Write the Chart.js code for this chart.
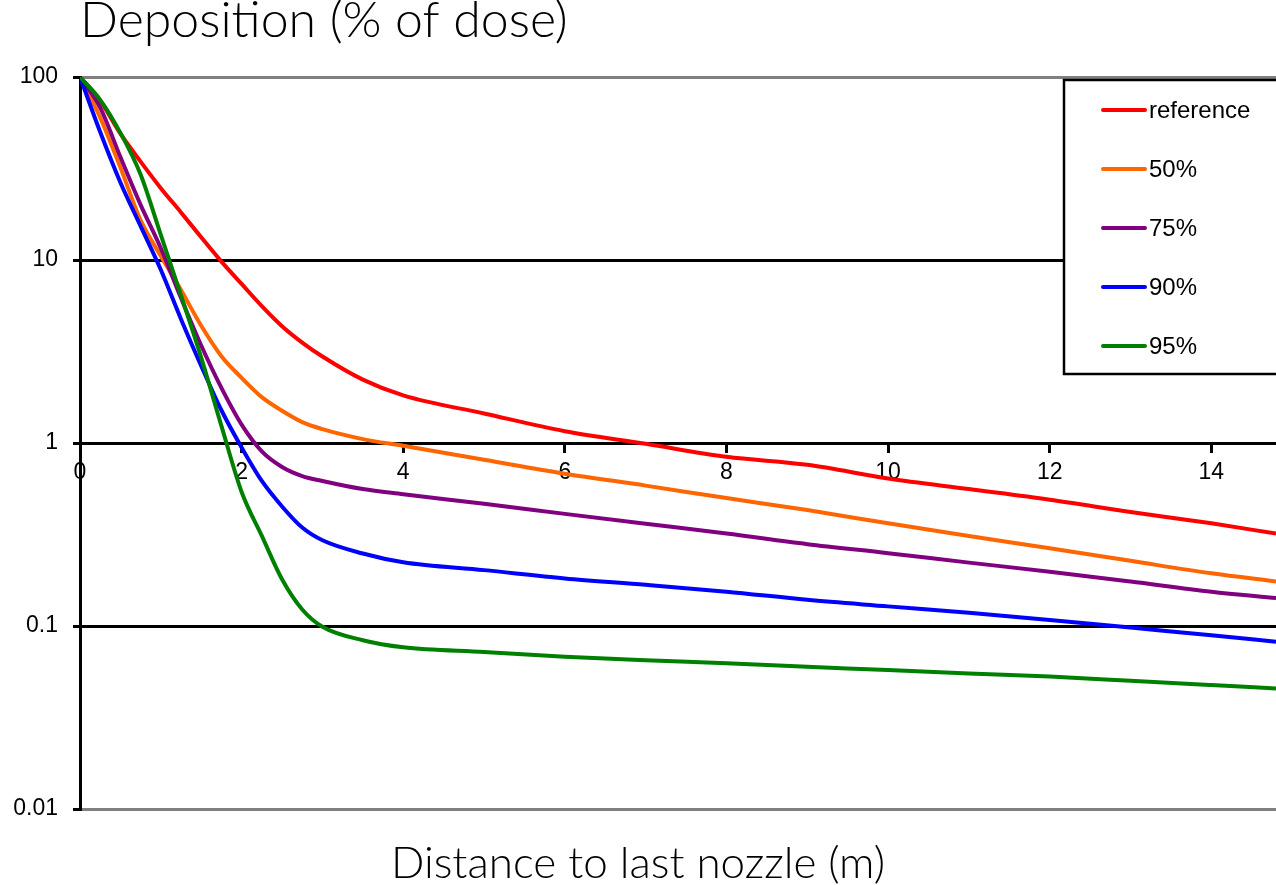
<!DOCTYPE html>
<html>
<head>
<meta charset="utf-8">
<script src="https://cdn.jsdelivr.net/npm/chart.js@4/dist/chart.umd.min.js"></script>
<style>
    html, body { margin: 0; padding: 0; background: #fff; }
    #wrap { width: 1276px; height: 885px; position: relative; }
</style>
</head>
<body>
<div id="wrap"><canvas id="chartDepo"></canvas></div>
<script>
// distance to last nozzle (m)
const distances = [0, 0.25, 0.5, 0.75, 1, 1.25, 1.5, 1.75, 2, 2.25, 2.5, 2.75, 3, 3.5, 4, 5, 6, 7, 8, 9, 10, 11, 12, 13, 14, 14.8];

// deposition (% of dose)
const refValues = [100, 74, 49, 34.5, 24.7, 18.2, 13.3, 9.8, 7.4, 5.6, 4.35, 3.54, 2.97, 2.22, 1.82, 1.45, 1.16, 0.99, 0.84, 0.76, 0.64, 0.56, 0.49, 0.42, 0.364, 0.32];
const red50 = [100, 60, 32, 16.5, 10.5, 6.85, 4.37, 2.98, 2.27, 1.78, 1.5, 1.3, 1.19, 1.05, 0.965, 0.81, 0.68, 0.585, 0.5, 0.43, 0.364, 0.31, 0.266, 0.227, 0.194, 0.175];
const red75 = [100, 68, 36.5, 20, 11.6, 6.2, 3.41, 2.0, 1.26, 0.9, 0.74, 0.66, 0.62, 0.56, 0.525, 0.465, 0.41, 0.362, 0.32, 0.28, 0.25, 0.222, 0.198, 0.175, 0.154, 0.142];
const red90 = [100, 50, 26.5, 15.3, 8.85, 4.75, 2.64, 1.51, 0.945, 0.62, 0.45, 0.345, 0.294, 0.249, 0.223, 0.202, 0.182, 0.168, 0.154, 0.139, 0.128, 0.118, 0.108, 0.098, 0.089, 0.082];
const red95 = [100, 75, 49.5, 29.3, 13.7, 6.4, 2.93, 1.24, 0.54, 0.311, 0.18, 0.123, 0.099, 0.0836, 0.0765, 0.0721, 0.068, 0.065, 0.0625, 0.0598, 0.0575, 0.055, 0.0529, 0.0502, 0.0476, 0.0456];

const seriesLabels = ['reference', '50%', '75%', '90%', '95%'];
const seriesColors = ['#FF0000', '#FF6600', '#800080', '#0000FF', '#008000'];
const yTicks = [0.01, 0.1, 1, 10, 100];

const FONT_TXT = "'Liberation Sans', Arial, sans-serif";
const FONT_TITLE = "Lato, 'DejaVu Sans', sans-serif";

const toPoints = vals => distances.map((d, i) => ({ x: d, y: vals[i] }));

// legend with a frame, drawn inside the plot like the original
const boxLegend = {
    id: 'boxLegend',
    afterDraw(chart) {
        const ctx = chart.ctx;
        ctx.save();
        ctx.fillStyle = '#fff';
        ctx.fillRect(1064, 80, 240, 294);
        ctx.strokeStyle = '#000';
        ctx.lineWidth = 2.5;
        ctx.strokeRect(1064, 80, 240, 294);
        ctx.font = '24px ' + FONT_TXT;
        ctx.textBaseline = 'middle';
        ctx.fillStyle = '#000';
        chart.data.datasets.forEach((ds, i) => {
            const y = 110 + i * 59;
            ctx.strokeStyle = ds.borderColor;
            ctx.lineWidth = 4;
            ctx.lineCap = 'round';
            ctx.beginPath();
            ctx.moveTo(1103, y);
            ctx.lineTo(1145, y);
            ctx.stroke();
            ctx.fillText(ds.label, 1149, y + 1);
        });
        ctx.restore();
    }
};

const series = [refValues, red50, red75, red90, red95];

new Chart(document.getElementById('chartDepo'), {
    type: 'line',
    data: {
        datasets: series.map((vals, i) => ({
            label: seriesLabels[i],
            data: toPoints(vals),
            borderColor: seriesColors[i],
            backgroundColor: seriesColors[i],
            borderWidth: 4,
            pointRadius: 0,
            cubicInterpolationMode: 'monotone',
            order: series.length - i
        }))
    },
    options: {
        responsive: true, maintainAspectRatio: false, animation: false,
        layout: { padding: 0 },
        plugins: {
            legend: { display: false }, tooltip: { enabled: false },
            title: {
                display: true, text: 'Deposition (% of dose)', align: 'start', fullSize: false,
                color: '#000', font: { family: FONT_TITLE, size: 50, weight: '300', lineHeight: 0.85 },
                padding: { top: 0, bottom: 34.5 }
            },
            subtitle: {
                display: true, position: 'bottom', text: 'Distance to last nozzle (m)', align: 'center',
                color: '#000', font: { family: FONT_TITLE, size: 44, weight: '300', lineHeight: 0.95 },
                padding: { top: 34.2, bottom: 0 }
            }
        },
        scales: {
            x: {
                type: 'linear', position: { y: 1 }, min: 0, max: 14.8,
                ticks: { stepSize: 2, includeBounds: false, color: '#000', padding: 8, font: { family: FONT_TXT, size: 23 } },
                grid: { drawOnChartArea: false, drawTicks: true, tickLength: 8, tickColor: '#000', lineWidth: 3 },
                border: { display: true, color: '#000', width: 3 }
            },
            y: {
                type: 'logarithmic', position: 'left', min: 0.01, max: 100,
                afterBuildTicks: axis => { axis.ticks = yTicks.map(v => ({ value: v })); },
                afterFit: axis => { axis.width = 80; },
                ticks: { color: '#000', padding: 15, font: { family: FONT_TXT, size: 23 }, callback: v => String(v) },
                grid: {
                    color: c => (c.tick && (c.tick.value === 100 || c.tick.value === 0.01)) ? '#808080' : '#000',
                    tickColor: '#000', lineWidth: 3, tickLength: 7
                },
                border: { display: true, color: '#000', width: 3 }
            }
        }
    },
    plugins: [boxLegend]
});
</script>
</body>
</html>
